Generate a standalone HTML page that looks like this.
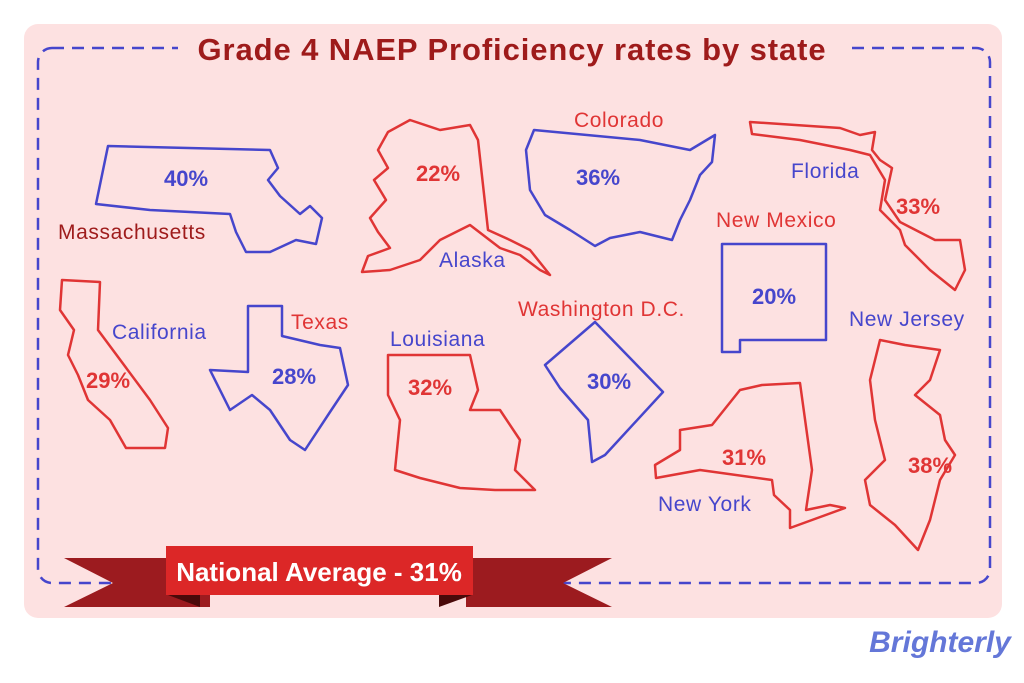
<!DOCTYPE html>
<html><head><meta charset="utf-8"><style>
body{margin:0;background:#fff;width:1024px;height:683px;overflow:hidden}
svg{display:block}
text{font-family:"Liberation Sans",sans-serif}
</style></head><body>
<svg width="1024" height="683" viewBox="0 0 1024 683">
<rect x="24" y="24" width="978" height="594" rx="14" fill="#fde1e1"/>
<rect x="38" y="48" width="952" height="535" rx="14" fill="none" stroke="#4646cc" stroke-width="2.5" stroke-dasharray="12,8"/>
<rect x="178" y="30" width="668" height="40" fill="#fde1e1"/>
<text x="512" y="60" text-anchor="middle" font-size="31" font-weight="bold" letter-spacing="0.9" fill="#9e1b1b">Grade 4 NAEP Proficiency rates by state</text>
<g fill="none" stroke-width="2.5" stroke-linejoin="round">
<path stroke="#4646cc" d="M108 146 L270 150 L278 168 L268 180 L280 196 L300 214 L310 206 L322 218 L316 244 L296 240 L270 252 L246 252 L236 232 L230 214 L150 210 L96 204 Z"/>
<path stroke="#e03535" d="M388 132 L410 120 L440 130 L470 125 L478 140 L488 230 L510 240 L530 250 L550 275 L540 270 L520 255 L500 248 L470 225 L440 240 L420 260 L390 270 L362 272 L368 256 L390 248 L378 232 L370 218 L386 200 L374 180 L388 168 L378 150 Z"/>
<path stroke="#4646cc" d="M534 130 L640 140 L690 150 L715 135 L712 162 L700 175 L690 200 L680 220 L672 240 L640 232 L610 238 L595 246 L570 230 L545 215 L530 190 L526 150 Z"/>
<path stroke="#e03535" d="M750 122 L840 128 L860 135 L875 132 L872 150 L880 160 L892 168 L885 200 L900 222 L935 240 L960 240 L965 270 L955 290 L930 270 L905 245 L900 230 L880 210 L885 180 L870 155 L850 150 L800 140 L752 134 Z"/>
<path stroke="#4646cc" d="M722 244 L826 244 L826 340 L740 340 L740 352 L722 352 Z"/>
<path stroke="#e03535" d="M62 280 L100 282 L98 330 L150 400 L168 428 L165 448 L126 448 L110 420 L88 400 L78 375 L68 355 L74 330 L60 310 Z"/>
<path stroke="#4646cc" d="M248 306 L282 306 L282 336 L320 345 L340 348 L348 385 L330 412 L305 450 L290 440 L270 410 L252 395 L230 410 L210 370 L248 372 Z"/>
<path stroke="#e03535" d="M388 355 L470 355 L478 390 L470 410 L500 410 L520 440 L515 470 L535 490 L495 490 L460 488 L420 478 L395 470 L400 420 L388 395 Z"/>
<path stroke="#4646cc" d="M545 365 L595 322 L663 392 L605 455 L592 462 L588 420 L560 388 Z"/>
<path stroke="#e03535" d="M655 465 L680 450 L680 430 L712 425 L740 390 L762 385 L800 383 L812 470 L806 510 L830 505 L845 508 L790 528 L790 510 L774 495 L772 480 L700 470 L656 478 Z"/>
<path stroke="#e03535" d="M880 340 L905 345 L940 350 L930 380 L915 395 L940 415 L945 440 L955 455 L940 480 L930 520 L918 550 L895 525 L870 505 L865 480 L885 460 L875 420 L870 380 L875 360 Z"/>
</g>
<g font-size="22" font-weight="bold">
<text x="186" y="186" text-anchor="middle" fill="#4646cc">40%</text>
<text x="438" y="181" text-anchor="middle" fill="#e03535">22%</text>
<text x="598" y="185" text-anchor="middle" fill="#4646cc">36%</text>
<text x="918" y="214" text-anchor="middle" fill="#e03535">33%</text>
<text x="774" y="304" text-anchor="middle" fill="#4646cc">20%</text>
<text x="108" y="388" text-anchor="middle" fill="#e03535">29%</text>
<text x="294" y="384" text-anchor="middle" fill="#4646cc">28%</text>
<text x="430" y="395" text-anchor="middle" fill="#e03535">32%</text>
<text x="609" y="389" text-anchor="middle" fill="#4646cc">30%</text>
<text x="744" y="465" text-anchor="middle" fill="#e03535">31%</text>
<text x="930" y="473" text-anchor="middle" fill="#e03535">38%</text>
</g>
<g font-size="21" letter-spacing="0.6">
<text x="58" y="239" fill="#9e1b1b">Massachusetts</text>
<text x="439" y="267" fill="#4646cc">Alaska</text>
<text x="574" y="127" fill="#e03535">Colorado</text>
<text x="791" y="178" fill="#4646cc">Florida</text>
<text x="716" y="227" fill="#e03535">New Mexico</text>
<text x="112" y="339" fill="#4646cc">California</text>
<text x="291" y="329" fill="#e03535">Texas</text>
<text x="390" y="346" fill="#4646cc">Louisiana</text>
<text x="518" y="316" fill="#e03535">Washington D.C.</text>
<text x="849" y="326" fill="#4646cc">New Jersey</text>
<text x="658" y="511" fill="#4646cc">New York</text>
</g>
<polygon points="64,558 210,558 210,607 64,607 113,583" fill="#9c1b1f"/>
<polygon points="466,558 612,558 563,583 612,607 466,607" fill="#9c1b1f"/>
<polygon points="168,595 200,607 200,595" fill="#4a0a0a"/>
<polygon points="472,595 439,607 439,595" fill="#4a0a0a"/>
<rect x="166" y="546" width="307" height="49" fill="#dc2727"/>
<text x="319" y="581" text-anchor="middle" font-size="26" font-weight="bold" fill="#fff">National Average - 31%</text>
<text x="940" y="652" text-anchor="middle" font-size="30" font-style="italic" font-weight="bold" fill="#6477d8" font-family="Liberation Serif,serif">Brighterly</text>
</svg>
</body></html>
